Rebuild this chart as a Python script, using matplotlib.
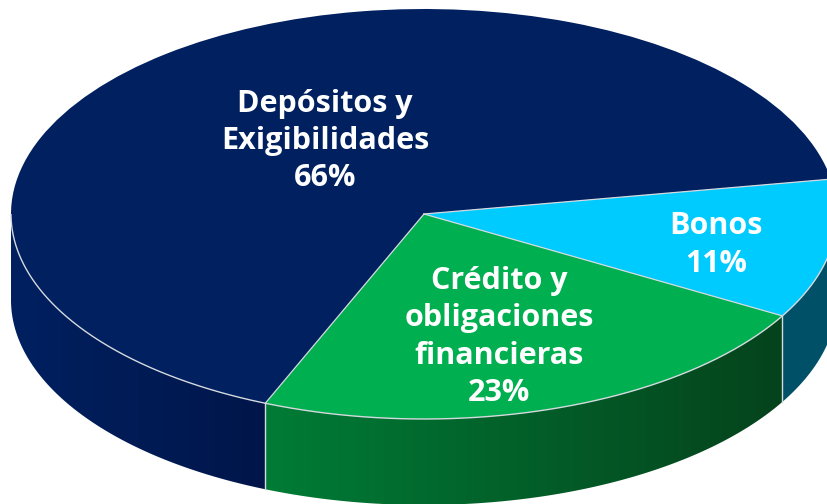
import numpy as np
import matplotlib
matplotlib.use("Agg")
import matplotlib.pyplot as plt
from matplotlib.colors import to_rgb

# Data
categories = ["Bonos", "Crédito y\nobligaciones\nfinancieras", "Depósitos y\nExigibilidades"]
shares = [11, 23, 66]
top_colors = ["#00CBFF", "#00AF50", "#002060"]
wall_left = ["#005068", "#007C36", "#002060"]
wall_right = ["#005068", "#05431C", "#00164A"]
label_px = [(716, 245), (499, 337), (325, 141)]

W, H = 828, 504
CX, CY, RX, RY, DEPTH = 424, 214, 413, 205, 86
START = 9.8

fig = plt.figure(figsize=(W / 100, H / 100), dpi=100, facecolor="white")
ax = fig.add_axes([0, 0, 1, 1])

wedges, _ = ax.pie(shares, colors=top_colors, startangle=START, counterclock=False,
                   radius=1, wedgeprops=dict(linewidth=0, zorder=3))
ymin = (CY - H) / RY
ymax = CY / RY
xmin, xmax = -CX / RX, (W - CX) / RX
depth = DEPTH / RY

# Side wall and rim from the same slice angles
total = sum(shares)
a0 = START
rim = "#D5DADF"
for i, s in enumerate(shares):
    a1 = a0 - 360 * s / total
    lo, hi = max(a1, -180), min(a0, 0)
    t = np.radians(np.linspace(hi, lo, 240))
    x, y = np.cos(t), np.sin(t)
    c0, c1 = np.array(to_rgb(wall_left[i])), np.array(to_rgb(wall_right[i]))
    grad = np.linspace(c0, c1, 256)[None, :, :]
    ax.imshow(grad, extent=[x.min(), x.max(), ymin, y.max()], aspect="auto",
              interpolation="bilinear", origin="upper", zorder=1)
    ax.plot(x, y, color=rim, lw=1.0, zorder=4, solid_capstyle="butt")
    ar = np.radians(a0)
    ax.plot([0, np.cos(ar)], [0, np.sin(ar)], color=rim, lw=0.9, zorder=4)
    if np.sin(ar) < 0:
        ax.plot([np.cos(ar)] * 2, [np.sin(ar), np.sin(ar) - depth], color=rim, lw=1.0, zorder=2)
    a0 = a1

# White mask giving the wall its smooth lower edge
tb = np.radians(np.linspace(-180, 0, 600))
mask_x = np.r_[xmin, np.cos(tb), xmax]
mask_y = np.r_[-depth, np.sin(tb) - depth, -depth]
ax.fill_between(mask_x, mask_y, ymin - 0.1, color="white", lw=0, zorder=1.5)

ax.set_aspect("auto")
ax.set_xlim(xmin, xmax)
ax.set_ylim(ymin, ymax)

# Labels
for cat, s, (px, py) in zip(categories, shares, label_px):
    ax.text((px - CX) / RX, (CY - py) / RY, f"{cat}\n{s}%", color="white", ha="center", va="center",
            family="Open Sans", weight="bold", fontsize=22, linespacing=1.32, zorder=5)

fig.savefig("out.png", dpi=100, facecolor="white")
